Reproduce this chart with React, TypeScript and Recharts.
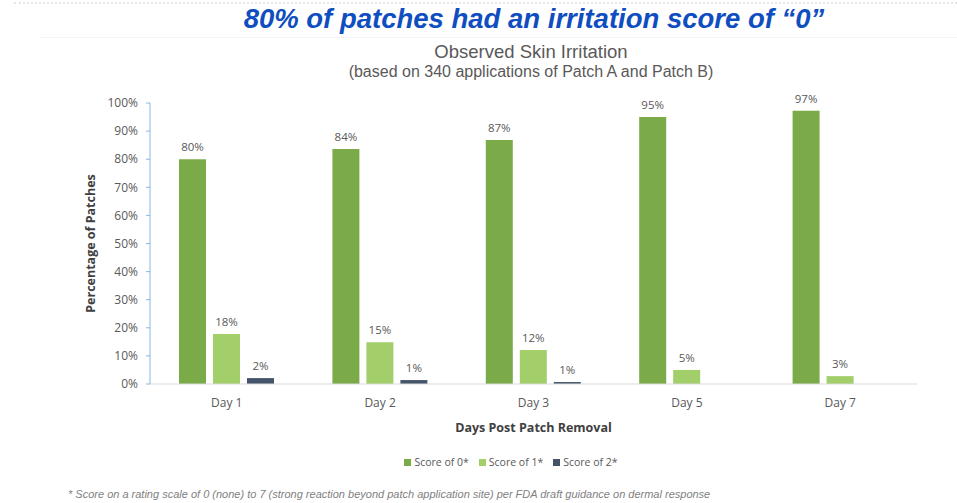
import { Bar, BarChart, LabelList, XAxis, YAxis } from "recharts";

const days = ["Day 1", "Day 2", "Day 3", "Day 5", "Day 7"];
const score0 = [80, 83.6, 86.8, 95, 97.2];
const score1 = [17.8, 14.9, 12.1, 5, 2.8];
const score2 = [2.1, 1.4, 0.7, 0, 0];
const yTicks = [0, 10, 20, 30, 40, 50, 60, 70, 80, 90, 100];

const seriesNames = ["Score of 0*", "Score of 1*", "Score of 2*"];
const colors = ["#7AAB48", "#A2CF6A", "#44546A"];

const data = days.map((d, i) => ({ day: d, s0: score0[i], s1: score1[i], s2: score2[i] }));

const font = "'Open Sans', sans-serif";
const grey = "#595959";

const pctLabel = (v: any) => (Number(v) > 0 ? `${Math.round(Number(v))}%` : "");

function LegendBox() {
  return (
    <div style={{ display: "flex", justifyContent: "center", gap: 10, fontFamily: font, fontSize: 10.5, color: grey }}>
      {seriesNames.map((n, i) => (
        <span key={n} style={{ display: "flex", alignItems: "center", gap: 3 }}>
          <span style={{ width: 7, height: 7, background: colors[i], display: "inline-block" }} />
          {n}
        </span>
      ))}
    </div>
  );
}

export default function App() {
  return (
    <div style={{ position: "fixed", left: 0, top: 0, width: 957, height: 503, background: "#fff", overflow: "hidden" }}>
      <div style={{ position: "absolute", left: 14, right: 0, top: 2, borderTop: "2px dotted #E6E6E6" }} />
      <div style={{ position: "absolute", left: 40, right: 0, top: 37, borderTop: "1px solid #F4F4F4" }} />
      <div
        style={{
          position: "absolute", left: 0, width: 1068, top: 3, textAlign: "center",
          fontFamily: "'Liberation Sans', Arial, sans-serif", fontWeight: "bold", fontStyle: "italic",
          fontSize: 27.5, color: "#0F4EC0",
        }}
      >
        80% of patches had an irritation score of “0”
      </div>
      <div
        style={{
          position: "absolute", left: 0, width: 1062, top: 41, textAlign: "center",
          fontFamily: "'Liberation Sans', Arial, sans-serif", fontSize: 18.5, color: grey, lineHeight: "21px",
        }}
      >
        Observed Skin Irritation
        <div style={{ fontSize: 16, lineHeight: "20px" }}>(based on 340 applications of Patch A and Patch B)</div>
      </div>

      <div style={{ position: "absolute", left: 0, top: 0 }}>
        <BarChart
          width={957}
          height={503}
          data={data}
          margin={{ top: 103, right: 40, bottom: 89, left: 90 }}
          barGap={7}
          barCategoryGap={29}
        >
          <XAxis
            dataKey="day"
            height={30}
            tickLine={false}
            axisLine={{ stroke: "#D9D9D9" }}
            tickMargin={8}
            tick={{ fill: grey, fontSize: 12, fontFamily: font }}
            label={{ value: "Days Post Patch Removal", position: "insideBottom", offset: -18, fill: "#404040", fontSize: 12.5, fontWeight: "bold", fontFamily: font }}
          />
          <YAxis
            width={60}
            domain={[0, 100]}
            ticks={yTicks}
            interval={0}
            tickFormatter={(v) => `${v}%`}
            axisLine={{ stroke: "#8AB6E0" }}
            tickLine={{ stroke: "#8AB6E0" }}
            tickSize={4}
            tickMargin={8}
            tick={{ fill: grey, fontSize: 12, fontFamily: font }}
            label={{ value: "Percentage of Patches", angle: -90, position: "insideLeft", offset: 1, fill: "#404040", fontSize: 12.5, fontWeight: "bold", fontFamily: font, style: { textAnchor: "middle" } }}
          />
          {["s0", "s1", "s2"].map((k, i) => (
            <Bar key={k} dataKey={k} name={seriesNames[i]} fill={colors[i]} barSize={27} isAnimationActive={false}>
              <LabelList dataKey={k} position="top" offset={8} formatter={pctLabel} fill={grey} fontSize={11.5} fontFamily={font} />
            </Bar>
          ))}
        </BarChart>
      </div>

      <div style={{ position: "absolute", left: 0, width: 1022, top: 455 }}>
        <LegendBox />
      </div>

      <div
        style={{
          position: "absolute", left: 68, top: 488, fontFamily: "'Liberation Sans', Arial, sans-serif",
          fontStyle: "italic", fontSize: 11, lineHeight: "13px", color: "#7F7F7F", whiteSpace: "nowrap",
        }}
      >
        * Score on a rating scale of 0 (none) to 7 (strong reaction beyond patch application site) per FDA draft guidance on dermal response
      </div>
    </div>
  );
}
